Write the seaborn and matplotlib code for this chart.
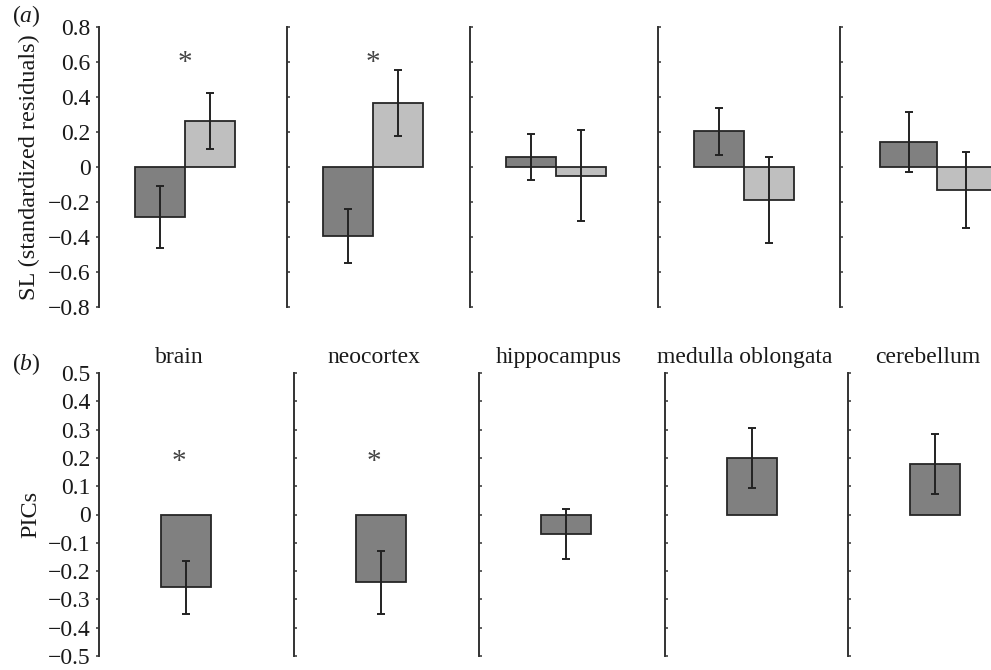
import matplotlib
matplotlib.use("Agg")
import matplotlib.pyplot as plt
import seaborn as sns
import pandas as pd

# values
regions = ["brain", "neocortex", "hippocampus", "medulla oblongata", "cerebellum"]
groups = ["dark", "light"]

sl_dark = [-0.285, -0.395, 0.057, 0.205, 0.143]
sl_dark_err = [0.175, 0.153, 0.132, 0.135, 0.172]
sl_light = [0.264, 0.367, -0.05, -0.19, -0.131]
sl_light_err = [0.16, 0.19, 0.26, 0.245, 0.215]

pics = [-0.257, -0.24, -0.069, 0.199, 0.178]
pics_err = [0.094, 0.11, 0.088, 0.107, 0.106]

sig_top = [True, True, False, False, False]
sig_bottom = [True, True, False, False, False]

top_ticks = [-0.8, -0.6, -0.4, -0.2, 0, 0.2, 0.4, 0.6, 0.8]
top_labels = ["\u22120.8", "\u22120.6", "\u22120.4", "\u22120.2", "0", "0.2", "0.4", "0.6", "0.8"]
bot_ticks = [-0.5, -0.4, -0.3, -0.2, -0.1, 0, 0.1, 0.2, 0.3, 0.4, 0.5]
bot_labels = ["\u22120.5", "\u22120.4", "\u22120.3", "\u22120.2", "\u22120.1", "0",
              "0.1", "0.2", "0.3", "0.4", "0.5"]

dark = "#808080"
light = "#bfbfbf"
edge = "#262626"
ink = "#333333"

sns.set_style("white")
plt.rcParams['font.family'] = ['Liberation Serif', 'DejaVu Serif']
plt.rcParams['mathtext.fontset'] = 'custom'
plt.rcParams['mathtext.rm'] = 'Liberation Serif'
plt.rcParams['mathtext.it'] = 'Liberation Serif:italic'

W, H = 991, 670
fig = plt.figure(figsize=(W / 100, H / 100), dpi=100)

top_x = [99, 287, 470, 658, 840]
bot_x = [99, 294, 479, 665, 848]
fs = 17
bot_top, bot_bottom = 373, 656


def style_axis(ax, ticks, labels, first):
    for s in ["top", "right", "bottom"]:
        ax.spines[s].set_visible(False)
    ax.spines["left"].set_color(ink)
    ax.spines["left"].set_linewidth(1.4)
    ax.set_xticks([])
    ax.set_xlabel("")
    ax.set_yticks(ticks)
    if first:
        ax.set_yticklabels(labels)
        ax.tick_params(axis="y", left=True, direction="out", length=2.5, width=1.1,
                       color=ink, labelcolor="#1a1a1a", labelsize=fs, pad=3.5)
    else:
        ax.set_yticklabels([])
        ax.tick_params(axis="y", left=True, direction="in", length=2.5, width=1.1,
                       color=ink)
    ax.patch.set_alpha(0)


def add_errors(ax, values, errs):
    bars = [p for p in ax.patches]
    for p, v, e in zip(bars, values, errs):
        cx = p.get_x() + p.get_width() / 2
        ax.errorbar(cx, v, yerr=e, fmt="none", ecolor="#222222",
                    elinewidth=1.4, capsize=2.6, capthick=1.4, zorder=3)


# (a) top row
for i, reg in enumerate(regions):
    last = i == len(regions) - 1
    wpx = 200 if last else 180
    scale = 142.5 if last else 125.0
    left = -0.681 if last else -0.69
    ax = fig.add_axes([top_x[i] / W, 1 - 307 / H, wpx / W, 280 / H])
    d = pd.DataFrame({"region": [reg, reg], "group": groups,
                      "value": [sl_dark[i], sl_light[i]]})
    sns.barplot(data=d, x="region", y="value", hue="group", hue_order=groups,
                palette=[dark, light], saturation=1, width=0.8, edgecolor=edge,
                linewidth=1.3, legend=False, ax=ax)
    add_errors(ax, [sl_dark[i], sl_light[i]], [sl_dark_err[i], sl_light_err[i]])
    ax.set_xlim(left, left + wpx / scale)
    ax.set_ylim(-0.8, 0.8)
    style_axis(ax, top_ticks, top_labels, i == 0)
    ax.set_ylabel("")
    if sig_top[i]:
        ax.text(0, 0.595, "*", ha="center", va="center", fontsize=21, color="#444444")
    if i == 0:
        ax.set_ylabel("SL (standardized residuals)", fontsize=17.5, color="#1a1a1a")
        ax.yaxis.set_label_coords(-0.33, 0.5)

# (b) bottom row
hpx = bot_bottom - bot_top
for i, reg in enumerate(regions):
    wpx = 180
    left = -0.696
    ax = fig.add_axes([bot_x[i] / W, 1 - bot_bottom / H, wpx / W, hpx / H])
    d = pd.DataFrame({"region": [reg], "value": [pics[i]]})
    sns.barplot(data=d, x="region", y="value", color=dark, saturation=1,
                width=0.4, edgecolor=edge, linewidth=1.3, ax=ax)
    add_errors(ax, [pics[i]], [pics_err[i]])
    ax.set_xlim(left, left + wpx / 125.0)
    ax.set_ylim(-0.5, 0.5)
    style_axis(ax, bot_ticks, bot_labels, i == 0)
    ax.set_ylabel("")
    if sig_bottom[i]:
        ax.text(-0.06, 0.185, "*", ha="center", va="center", fontsize=21, color="#444444")
    ax.text(80 / wpx, 1 + 10 / hpx, reg, transform=ax.transAxes, ha="center",
            va="baseline", fontsize=fs, color="#1a1a1a")
    if i == 0:
        ax.set_ylabel("PICs", fontsize=17.5, color="#1a1a1a")
        ax.yaxis.set_label_coords(-0.322, 0.5)

fig.text(12 / W, 1 - 22 / H, r"$(\mathit{a})$", fontsize=fs, color="#1a1a1a", va="baseline")
fig.text(12 / W, 1 - 370 / H, r"$(\mathit{b})$", fontsize=fs, color="#1a1a1a", va="baseline")

fig.savefig("out.png", dpi=100)
